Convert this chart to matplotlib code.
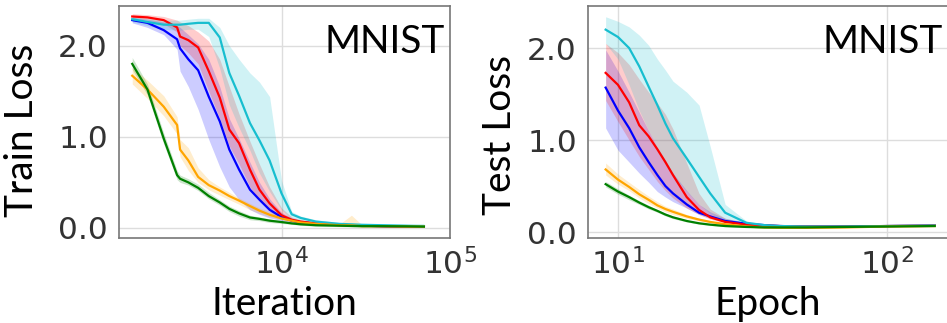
import matplotlib
matplotlib.use("Agg")
import matplotlib.pyplot as plt

# training loss vs iteration (MNIST)
iters = [1300, 1600, 2000, 2400, 2500, 2800, 3200, 3700, 4300, 4900, 5600, 6500,
         7400, 8500, 10000, 11500, 13000, 16000, 22000, 26000, 30000, 40000, 55000, 70000]

tr_red = [2.32, 2.31, 2.28, 2.20, 2.10, 2.06, 1.98, 1.72, 1.43, 1.08, 0.93, 0.64,
          0.42, 0.27, 0.14, 0.09, 0.07, 0.05, 0.035, 0.03, 0.025, 0.02, 0.018, 0.015]
tr_red_lo = [2.30, 2.28, 2.24, 2.15, 2.00, 1.92, 1.80, 1.50, 1.20, 0.90, 0.70, 0.45,
             0.30, 0.18, 0.10, 0.07, 0.05, 0.04, 0.025, 0.02, 0.015, 0.012, 0.01, 0.01]
tr_red_hi = [2.35, 2.34, 2.32, 2.28, 2.26, 2.22, 2.15, 2.05, 1.85, 1.55, 1.25, 0.95,
             0.70, 0.45, 0.22, 0.12, 0.09, 0.07, 0.05, 0.045, 0.035, 0.03, 0.025, 0.02]

tr_blue = [2.28, 2.25, 2.17, 2.07, 1.97, 1.85, 1.73, 1.44, 1.17, 0.86, 0.64, 0.42,
           0.31, 0.20, 0.12, 0.08, 0.06, 0.05, 0.035, 0.03, 0.025, 0.02, 0.015, 0.015]
tr_blue_lo = [2.25, 2.20, 2.12, 1.96, 1.72, 1.55, 1.30, 0.97, 0.67, 0.45, 0.31, 0.20,
              0.15, 0.11, 0.08, 0.06, 0.045, 0.035, 0.025, 0.02, 0.015, 0.012, 0.01, 0.01]
tr_blue_hi = [2.31, 2.29, 2.26, 2.22, 2.20, 2.12, 2.02, 1.85, 1.55, 1.20, 0.98, 0.72,
              0.50, 0.32, 0.17, 0.11, 0.08, 0.06, 0.045, 0.04, 0.035, 0.03, 0.025, 0.02]

tr_cyan = [2.29, 2.26, 2.23, 2.23, 2.23, 2.24, 2.25, 2.25, 2.09, 1.70, 1.45, 1.15,
           0.96, 0.74, 0.38, 0.15, 0.11, 0.07, 0.045, 0.04, 0.035, 0.03, 0.025, 0.02]
tr_cyan_lo = [2.26, 2.22, 2.18, 2.17, 2.17, 2.18, 2.18, 2.10, 1.75, 1.35, 1.10, 0.85,
              0.60, 0.40, 0.20, 0.09, 0.07, 0.05, 0.03, 0.028, 0.025, 0.02, 0.015, 0.01]
tr_cyan_hi = [2.32, 2.30, 2.28, 2.28, 2.28, 2.29, 2.30, 2.30, 2.20, 2.00, 1.85, 1.70,
              1.60, 1.44, 0.52, 0.18, 0.13, 0.09, 0.06, 0.05, 0.045, 0.04, 0.035, 0.05]

tr_green = [1.80, 1.52, 0.98, 0.58, 0.54, 0.50, 0.44, 0.35, 0.28, 0.21, 0.16, 0.115,
            0.10, 0.08, 0.065, 0.05, 0.04, 0.03, 0.025, 0.022, 0.02, 0.02, 0.018, 0.015]
tr_green_lo = [1.74, 1.46, 0.92, 0.53, 0.50, 0.47, 0.41, 0.32, 0.25, 0.18, 0.13, 0.09,
               0.08, 0.06, 0.05, 0.04, 0.03, 0.02, 0.015, 0.012, 0.01, 0.01, 0.008, 0.005]
tr_green_hi = [1.87, 1.58, 1.04, 0.63, 0.58, 0.54, 0.48, 0.39, 0.31, 0.24, 0.19, 0.14,
               0.12, 0.10, 0.08, 0.065, 0.05, 0.04, 0.035, 0.03, 0.03, 0.028, 0.025, 0.022]

tr_orange = [1.67, 1.52, 1.33, 1.13, 0.86, 0.74, 0.56, 0.47, 0.41, 0.35, 0.30, 0.24,
             0.19, 0.145, 0.105, 0.08, 0.06, 0.045, 0.03, 0.028, 0.02, 0.02, 0.015, 0.015]
tr_orange_lo = [1.58, 1.42, 1.23, 1.03, 0.78, 0.63, 0.50, 0.42, 0.36, 0.31, 0.26, 0.20,
                0.16, 0.12, 0.09, 0.065, 0.045, 0.03, 0.02, 0.015, 0.01, 0.01, 0.008, 0.005]
tr_orange_hi = [1.76, 1.62, 1.45, 1.22, 0.97, 0.88, 0.66, 0.53, 0.45, 0.39, 0.33, 0.27,
                0.22, 0.18, 0.13, 0.10, 0.08, 0.06, 0.04, 0.14, 0.035, 0.03, 0.025, 0.02]

# test loss vs epoch (MNIST)
epochs = [9, 10, 11, 12, 13, 14, 15, 16, 18, 20, 22, 25, 30, 35, 40, 50, 70, 100, 150]

te_red = [1.73, 1.60, 1.41, 1.16, 1.04, 0.90, 0.76, 0.62, 0.38, 0.24, 0.16, 0.11,
          0.08, 0.07, 0.065, 0.06, 0.06, 0.065, 0.07]
te_red_lo = [1.43, 1.20, 1.00, 0.82, 0.68, 0.55, 0.45, 0.37, 0.26, 0.19, 0.14, 0.10,
             0.07, 0.06, 0.055, 0.05, 0.05, 0.055, 0.06]
te_red_hi = [2.05, 1.95, 1.82, 1.66, 1.52, 1.40, 1.28, 1.12, 0.75, 0.42, 0.25, 0.15,
             0.10, 0.08, 0.075, 0.07, 0.065, 0.07, 0.075]

te_blue = [1.57, 1.32, 1.13, 0.92, 0.76, 0.62, 0.50, 0.42, 0.30, 0.21, 0.17, 0.12,
           0.09, 0.075, 0.065, 0.06, 0.06, 0.065, 0.07]
te_blue_lo = [1.13, 0.89, 0.76, 0.64, 0.54, 0.44, 0.38, 0.33, 0.26, 0.19, 0.15, 0.11,
              0.08, 0.065, 0.06, 0.055, 0.055, 0.06, 0.065]
te_blue_hi = [1.98, 1.75, 1.52, 1.30, 1.10, 0.92, 0.78, 0.64, 0.45, 0.30, 0.22, 0.15,
              0.10, 0.08, 0.07, 0.065, 0.065, 0.07, 0.075]

te_cyan = [2.20, 2.12, 2.00, 1.80, 1.58, 1.38, 1.18, 1.02, 0.80, 0.60, 0.42, 0.21,
           0.10, 0.075, 0.065, 0.06, 0.06, 0.065, 0.07]
te_cyan_lo = [2.05, 1.88, 1.60, 1.32, 1.10, 0.92, 0.76, 0.62, 0.44, 0.30, 0.20, 0.12,
              0.08, 0.065, 0.06, 0.055, 0.055, 0.06, 0.065]
te_cyan_hi = [2.34, 2.29, 2.23, 2.14, 2.03, 1.88, 1.76, 1.64, 1.52, 1.38, 0.93, 0.30,
              0.12, 0.08, 0.075, 0.07, 0.065, 0.07, 0.075]

te_green = [0.52, 0.44, 0.38, 0.32, 0.27, 0.23, 0.19, 0.16, 0.12, 0.095, 0.08, 0.065,
            0.055, 0.05, 0.05, 0.05, 0.055, 0.06, 0.065]
te_green_lo = [0.49, 0.41, 0.35, 0.30, 0.25, 0.215, 0.175, 0.145, 0.11, 0.085, 0.072, 0.058,
               0.05, 0.045, 0.045, 0.045, 0.05, 0.055, 0.06]
te_green_hi = [0.55, 0.47, 0.40, 0.34, 0.29, 0.245, 0.205, 0.175, 0.13, 0.105, 0.088, 0.072,
               0.06, 0.055, 0.055, 0.055, 0.06, 0.065, 0.07]

te_orange = [0.68, 0.57, 0.49, 0.41, 0.35, 0.29, 0.25, 0.22, 0.17, 0.135, 0.11, 0.085,
             0.06, 0.05, 0.045, 0.045, 0.05, 0.06, 0.065]
te_orange_lo = [0.62, 0.52, 0.45, 0.37, 0.31, 0.26, 0.22, 0.19, 0.15, 0.12, 0.10, 0.075,
                0.052, 0.043, 0.04, 0.04, 0.045, 0.055, 0.06]
te_orange_hi = [0.75, 0.63, 0.54, 0.46, 0.39, 0.33, 0.28, 0.25, 0.19, 0.15, 0.12, 0.095,
                0.07, 0.058, 0.052, 0.05, 0.055, 0.065, 0.07]

colors = {"blue": "#0000ff", "red": "#ff0000", "cyan": "#17becf",
          "orange": "#ffa500", "green": "#008000"}

LABEL_FONT = "Lato"
TICK_SIZE = 22.5
LABEL_SIZE = 28


def draw_panel(ax, x, series, xlim, ylim, xticks, xticklabels):
    for name, (mean, lo, hi) in series:
        ax.fill_between(x, lo, hi, color=colors[name], alpha=0.2, linewidth=0)
    for name, (mean, lo, hi) in series:
        ax.plot(x, mean, color=colors[name], linewidth=1.6)
    ax.set_xscale("log")
    ax.set_xlim(*xlim)
    ax.set_ylim(*ylim)
    ax.set_xticks(xticks)
    ax.set_xticklabels(xticklabels)
    ax.minorticks_off()
    ax.set_yticks([0.0, 1.0, 2.0])
    ax.set_yticklabels(["0.0", "1.0", "2.0"])
    ax.grid(True, color="#dddddd", linewidth=1.0)
    ax.set_axisbelow(True)
    for s in ax.spines.values():
        s.set_color("#777777")
        s.set_linewidth(1.2)
    ax.tick_params(axis="both", length=0, labelsize=TICK_SIZE, colors="#333333")
    ax.tick_params(axis="y", pad=8)
    ax.tick_params(axis="x", pad=7)
    ax.text(0.985, 0.797, "MNIST", transform=ax.transAxes, ha="right",
            va="baseline", fontsize=LABEL_SIZE, family=LABEL_FONT, color="black")


fig = plt.figure(figsize=(9.47, 3.23), dpi=100)
ax1 = fig.add_axes([119 / 947, 85 / 323, 331 / 947, 232 / 323])
ax2 = fig.add_axes([588 / 947, 85 / 323, 360 / 947, 232 / 323])

train = [
    ("blue", (tr_blue, tr_blue_lo, tr_blue_hi)),
    ("red", (tr_red, tr_red_lo, tr_red_hi)),
    ("cyan", (tr_cyan, tr_cyan_lo, tr_cyan_hi)),
    ("orange", (tr_orange, tr_orange_lo, tr_orange_hi)),
    ("green", (tr_green, tr_green_lo, tr_green_hi)),
]
test = [
    ("blue", (te_blue, te_blue_lo, te_blue_hi)),
    ("red", (te_red, te_red_lo, te_red_hi)),
    ("cyan", (te_cyan, te_cyan_lo, te_cyan_hi)),
    ("orange", (te_orange, te_orange_lo, te_orange_hi)),
    ("green", (te_green, te_green_lo, te_green_hi)),
]

draw_panel(ax1, iters, train, (1085, 1e5), (-0.11, 2.435),
           [1e4, 1e5], [r"$10^4$", r"$10^5$"])
draw_panel(ax2, epochs, test, (7.74, 168), (-0.065, 2.457),
           [10, 100], [r"$10^1$", r"$10^2$"])

ax1.set_xlabel("Iteration", fontsize=LABEL_SIZE, family=LABEL_FONT, labelpad=4)
ax2.set_xlabel("Epoch", fontsize=LABEL_SIZE, family=LABEL_FONT, labelpad=4)
fig.text(22 / 947, 1 - 130 / 323, "Train Loss", rotation=90, ha="center",
         va="center", fontsize=LABEL_SIZE, family=LABEL_FONT)
fig.text(500 / 947, 1 - 135 / 323, "Test Loss", rotation=90, ha="center",
         va="center", fontsize=LABEL_SIZE, family=LABEL_FONT)

fig.savefig("out.png", dpi=100)
